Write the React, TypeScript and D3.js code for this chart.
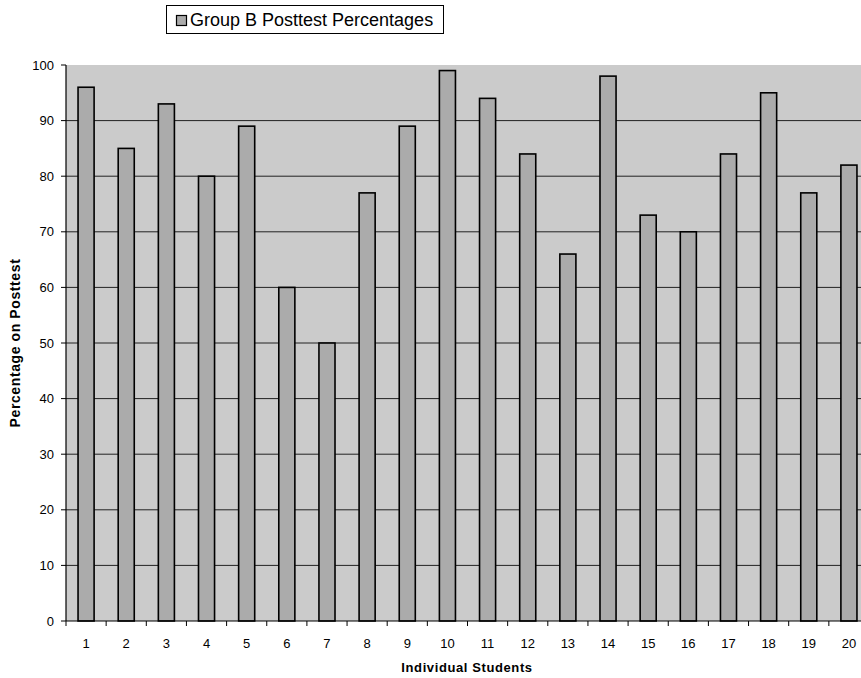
import React from "react";
import * as d3 from "d3";

const students = ["1","2","3","4","5","6","7","8","9","10","11","12","13","14","15","16","17","18","19","20"];
const posttest = [96, 85, 93, 80, 89, 60, 50, 77, 89, 99, 94, 84, 66, 98, 73, 70, 84, 95, 77, 82];
const yTicks = [0, 10, 20, 30, 40, 50, 60, 70, 80, 90, 100];
const seriesName = "Group B Posttest Percentages";
const xTitle = "Individual Students";
const yTitle = "Percentage on Posttest";

export default function App() {
  const W = 861, H = 678;
  const left = 66, right = 869, top = 65, bottom = 621;
  const x = d3.scaleBand<string>().domain(students).range([left, right]).paddingInner(0.6).paddingOuter(0.3);
  const xb = d3.scaleBand<string>().domain(students).range([left, right]);
  const y = d3.scaleLinear().domain([0, 100]).range([bottom, top]);
  const font = "'Liberation Sans', Arial, sans-serif";
  return (
    <svg width={W} height={H} style={{ position: "absolute", left: 0, top: 0, background: "#fff" }} fontFamily={font}>
      <rect x={left} y={top} width={right - left} height={bottom - top} fill="#cbcbcb" />
      {yTicks.map(t => (
        <g key={t}>
          {t > 0 && t < 100 && <line x1={left} x2={right} y1={y(t)} y2={y(t)} stroke="#222" strokeWidth={1} />}
          <line x1={left - 5} x2={left} y1={y(t)} y2={y(t)} stroke="#000" />
          <text x={54} y={y(t)} dy="0.35em" textAnchor="end" fontSize={13}>{t}</text>
        </g>
      ))}
      {posttest.map((v, i) => (
        <rect key={i} x={x(students[i])} y={y(v)} width={x.bandwidth()} height={bottom - y(v)}
          fill="#ababab" stroke="#000" strokeWidth={1.6} />
      ))}
      <line x1={left} x2={left} y1={top} y2={bottom} stroke="#000" strokeWidth={1.2} />
      <line x1={left} x2={right} y1={bottom} y2={bottom} stroke="#000" strokeWidth={1.2} />
      {students.map((s) => (
        <g key={s}>
          <line x1={xb(s)!} x2={xb(s)!} y1={bottom} y2={bottom + 5} stroke="#000" />
          <text x={xb(s)! + xb.bandwidth() / 2} y={643} dy="0.35em" textAnchor="middle" fontSize={13}>{s}</text>
        </g>
      ))}
      <text x={467} y={672} textAnchor="middle" fontSize={13} fontWeight="bold" letterSpacing={0.6}>{xTitle}</text>
      <text transform={`translate(20,343) rotate(-90)`} textAnchor="middle" fontSize={14} fontWeight="bold" letterSpacing={0.6}>{yTitle}</text>
      <rect x={166.5} y={5.5} width={277} height={28} fill="#fff" stroke="#000" strokeWidth={1} />
      <rect x={176.5} y={15.5} width={10} height={10} fill="#ababab" stroke="#000" strokeWidth={1.2} />
      <text x={190} y={20} dy="0.36em" fontSize={18}>{seriesName}</text>
    </svg>
  );
}
